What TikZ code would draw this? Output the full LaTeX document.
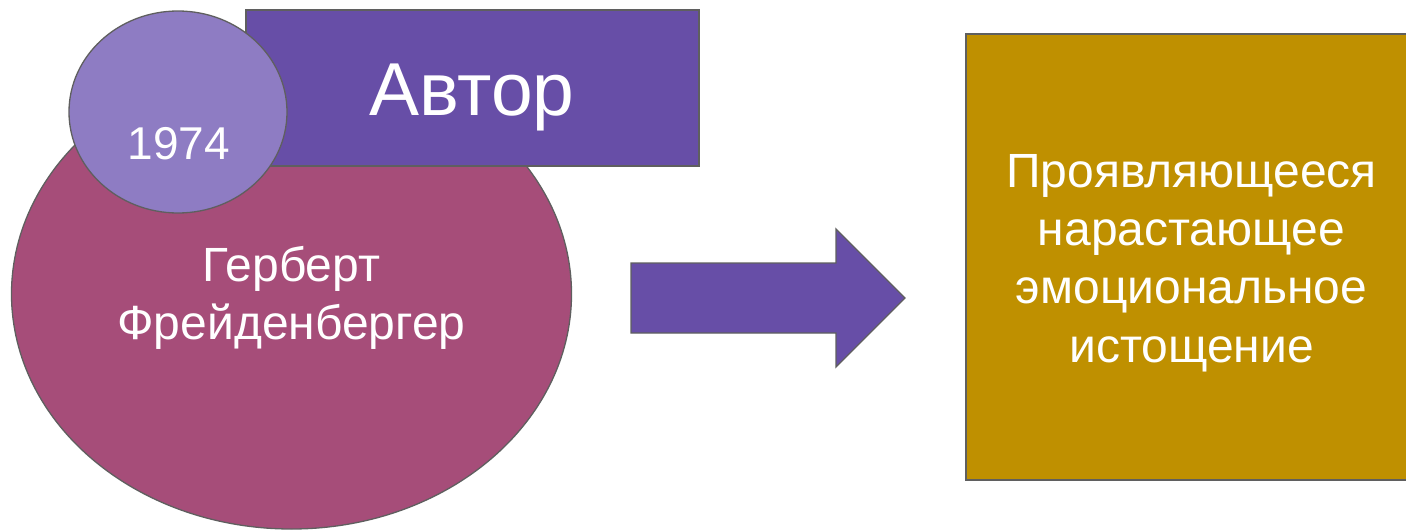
\documentclass[tikz,border=0pt]{standalone}
\usepackage{fontspec}
\setmainfont{Liberation Sans}
\usetikzlibrary{shapes.geometric}
\definecolor{cMagenta}{HTML}{A64D79}
\definecolor{cLilac}{HTML}{8E7CC3}
\definecolor{cPurple}{HTML}{674EA7}
\definecolor{cGold}{HTML}{BF9000}
\definecolor{cEdge}{HTML}{5F5F5F}
\begin{document}
\begin{tikzpicture}[x=1pt,y=-1pt,
  shapebox/.style={draw=cEdge,line width=1.3pt,inner sep=0pt},
  wtext/.style={text=white,align=center,inner sep=0pt}]
\useasboundingbox (0,0) rectangle (1406,530);
\clip (0,0) rectangle (1406,530);
\node[shapebox,ellipse,fill=cMagenta,minimum width=560pt,minimum height=470pt] (big) at (291.5,294) {};
\node[shapebox,rectangle,fill=cPurple,minimum width=453pt,minimum height=156pt] (author) at (472.5,88) {};
\node[shapebox,ellipse,fill=cLilac,minimum width=218pt,minimum height=202pt] (year) at (178,112) {};
\draw[shapebox,fill=cPurple] (631,263) -- (836,263) -- (836,229) -- (905,298) -- (836,367) -- (836,333) -- (631,333) -- cycle;
\node[shapebox,rectangle,fill=cGold,minimum width=451pt,minimum height=446pt] (result) at (1191.5,257) {};
\node[wtext,anchor=base,font=\fontsize{75}{90}\selectfont] (authortxt) at (472,115) {Автор};
\node[wtext,anchor=base,font=\fontsize{46}{55}\selectfont] (yeartxt) at (179,159) {1974};
\node[wtext,anchor=base,font=\fontsize{48}{58}\selectfont] (nametxt) at (291.5,339) {Герберт\\Фрейденбергер};
\node[wtext,anchor=base,font=\fontsize{48}{58.3}\selectfont] (resulttxt) at (1191.5,362) {Проявляющееся\\нарастающее\\эмоциональное\\истощение};
\end{tikzpicture}
\end{document}
